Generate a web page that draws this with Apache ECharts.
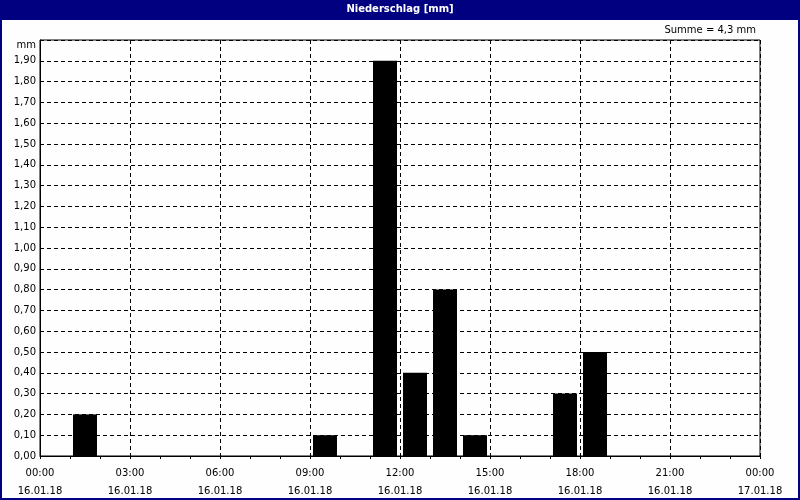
<!DOCTYPE html>
<html><head><meta charset="utf-8">
<script src="https://cdn.jsdelivr.net/npm/echarts@6/dist/echarts.min.js"></script>
<style>html,body{margin:0;padding:0;background:#fff}#c{width:800px;height:500px}</style>
</head><body><div id="c"></div>
<script>
// Data
const hourBins = ['00','01','02','03','04','05','06','07','08','09','10','11','12','13','14','15','16','17','18','19','20','21','22','23'];
const rainHours = ['01','09','11','12','13','14','17','18'];
const rainValues = [0.2, 0.1, 1.9, 0.4, 0.8, 0.1, 0.3, 0.5];
const xTickTimes = ['00:00','03:00','06:00','09:00','12:00','15:00','18:00','21:00','00:00'];
const xTickDates = ['16.01.18','16.01.18','16.01.18','16.01.18','16.01.18','16.01.18','16.01.18','16.01.18','17.01.18'];
const yUnitLabel = 'mm';

const barData = hourBins.map(h => { const i = rainHours.indexOf(h); return i >= 0 ? rainValues[i] : null; });
const total = rainValues.reduce((a, b) => a + b, 0);

const FONT = 'DejaVu Sans';
const chart = echarts.init(document.getElementById('c'), null, {renderer: 'canvas'});
chart.setOption({
  animation: false,
  backgroundColor: '#fdfefd',
  textStyle: {fontFamily: FONT},
  graphic: [
    {type: 'rect', shape: {x: 0, y: 0, width: 800, height: 20}, style: {fill: '#000080'}, z: 0, silent: true},
    {type: 'rect', shape: {x: 1, y: 1, width: 798, height: 498}, style: {fill: 'none', stroke: '#000080', lineWidth: 2}, z: 100, silent: true}
  ],
  title: [
    {text: 'Niederschlag [mm]', left: 'center', top: 4, padding: 0, z: 10,
     textStyle: {color: '#ffffff', fontSize: 10, fontWeight: 'bold', fontFamily: FONT}},
    {text: 'Summe = ' + total.toFixed(1).replace('.', ',') + ' mm', right: 44, top: 25, padding: 0,
     textStyle: {color: '#000000', fontSize: 10, fontWeight: 'normal', fontFamily: FONT}}
  ],
  grid: {left: 40, right: 40, top: 40, bottom: 40, show: true, borderColor: '#000', borderWidth: 1, backgroundColor: 'transparent'},
  xAxis: [
    {type: 'category', data: hourBins, boundaryGap: true, show: false},
    {type: 'value', min: 0, max: 24, interval: 3, position: 'bottom',
     axisLine: {show: true, lineStyle: {color: '#000', width: 1}},
     axisTick: {show: true, length: 3, lineStyle: {color: '#000'}},
     minorTick: {show: true, splitNumber: 3, length: 3, lineStyle: {color: '#000'}},
     splitLine: {show: true, lineStyle: {color: '#000', type: [4, 3], width: 1}},
     axisLabel: {margin: 8, color: '#000', fontSize: 10, fontFamily: FONT, lineHeight: 18,
       formatter: v => { const i = Math.round(v / 3); return xTickTimes[i] + '\n' + xTickDates[i]; }}}
  ],
  yAxis: {type: 'value', min: 0, max: 2, interval: 0.1,
    axisLine: {show: true, lineStyle: {color: '#000'}},
    axisTick: {show: false},
    splitLine: {show: true, lineStyle: {color: '#000', type: [4, 3], width: 1}},
    axisLabel: {margin: 4, color: '#000', fontSize: 10, fontFamily: FONT,
      rich: {u: {padding: [10, 0, 0, 0], fontSize: 10, fontFamily: FONT, color: '#000'}},
      formatter: v => Math.abs(v - 2) < 1e-9 ? '{u|' + yUnitLabel + '}' : v.toFixed(2).replace('.', ',')}},
  series: [{type: 'bar', xAxisIndex: 0, data: barData, barWidth: 24,
    itemStyle: {color: '#000000', borderWidth: 0}}]
});
</script></body></html>
